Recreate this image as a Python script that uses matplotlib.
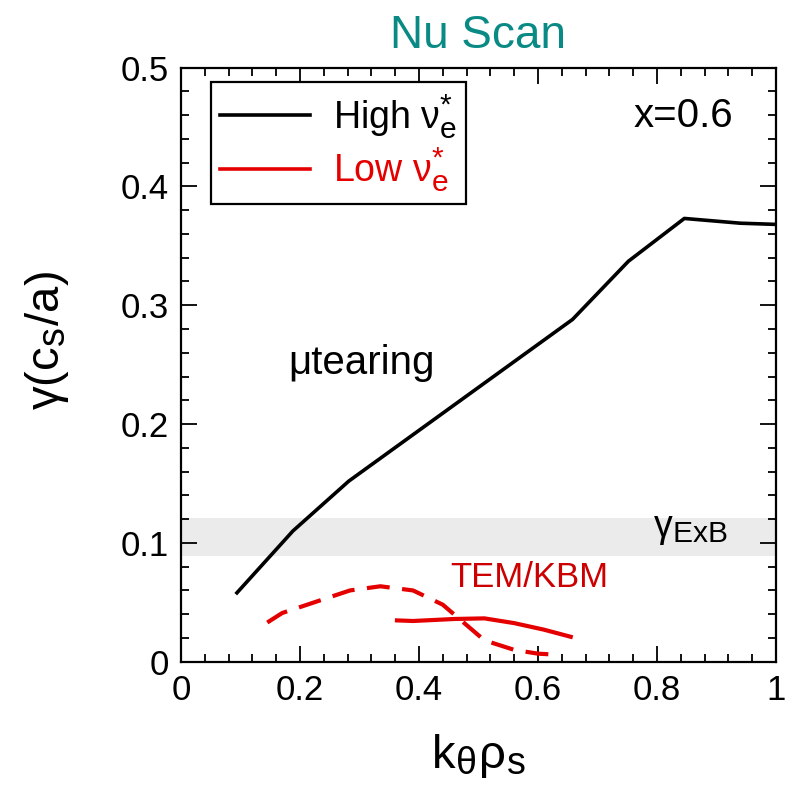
import numpy as np
import matplotlib
matplotlib.use('Agg')
import matplotlib.pyplot as plt
import matplotlib._mathtext as mt
from matplotlib.ticker import MultipleLocator, FixedLocator, FixedFormatter

plt.rcParams['font.family'] = ['Liberation Sans', 'DejaVu Sans']
plt.rcParams['mathtext.fontset'] = 'stix'
mt.SHRINK_FACTOR = 0.8  # subscripts are fairly big in the original

# high collisionality, microtearing branch
k_high = [0.094, 0.188, 0.282, 0.376, 0.470, 0.564, 0.658, 0.752, 0.846, 0.940, 1.0]
g_high = [0.058, 0.110, 0.152, 0.186, 0.220, 0.254, 0.288, 0.337, 0.373, 0.369, 0.368]

# low collisionality, two TEM/KBM branches
k_low_dash = [0.145, 0.170, 0.200, 0.236, 0.284, 0.335, 0.390, 0.440, 0.475, 0.510, 0.560, 0.600, 0.630]
g_low_dash = [0.033, 0.041, 0.046, 0.052, 0.060, 0.0635, 0.060, 0.048, 0.033, 0.018, 0.010, 0.0068, 0.006]
k_low_solid = [0.363, 0.390, 0.460, 0.510, 0.560, 0.610, 0.655]
g_low_solid = [0.0348, 0.0343, 0.036, 0.0365, 0.0325, 0.027, 0.021]

# ExB shearing rate band
exb_lo, exb_hi = 0.089, 0.121

xticks = [0, 0.2, 0.4, 0.6, 0.8, 1.0]
xticklabels = ['0', '0.2', '0.4', '0.6', '0.8', '1']
yticks = [0, 0.1, 0.2, 0.3, 0.4, 0.5]
yticklabels = ['0', '0.1', '0.2', '0.3', '0.4', '0.5']

red = '#e50000'
dark_red = '#cc0000'

fig = plt.figure(figsize=(7.87, 7.85), dpi=100)
ax = fig.add_axes([0.230, 0.157, 0.756, 0.757])

ax.axhspan(exb_lo, exb_hi, color='#ebebeb', zorder=0, lw=0)

ax.plot(k_high, g_high, color='black', lw=2.6, label=r'High ν$_{\mathregular{e}}^{\mathregular{*}}$')
ax.plot(k_low_dash, g_low_dash, color=red, lw=3.0, dashes=(5.5, 3))
ax.plot(k_low_solid, g_low_solid, color=red, lw=3.0, label=r'Low ν$_{\mathregular{e}}^{\mathregular{*}}$')

ax.set_xlim(0, 1)
ax.set_ylim(0, 0.5)
ax.xaxis.set_major_locator(FixedLocator(xticks))
ax.xaxis.set_major_formatter(FixedFormatter(xticklabels))
ax.yaxis.set_major_locator(FixedLocator(yticks))
ax.yaxis.set_major_formatter(FixedFormatter(yticklabels))
ax.xaxis.set_minor_locator(MultipleLocator(0.04))
ax.yaxis.set_minor_locator(MultipleLocator(0.02))
ax.tick_params(which='both', direction='in', top=True, right=True, labelsize=25, width=1.3)
ax.tick_params(which='major', length=11.5, pad=9)
ax.tick_params(which='minor', length=5.8)
for s in ax.spines.values():
    s.set_linewidth(1.6)

ax.set_xlabel(r'k$_{\mathregular{θ}}$ρ$_{\mathregular{s}}$', fontsize=34, labelpad=18)
ax.set_ylabel(r'γ(c$_{\mathregular{s}}$/a)', fontsize=34)
ax.yaxis.set_label_coords(-0.185, 0.54)
ax.set_title('Nu Scan', fontsize=33, color='#0a8a85', pad=14)

ax.text(0.76, 0.450, 'x=0.6', fontsize=29)
ax.text(0.18, 0.242, 'μtearing', fontsize=29)
ax.text(0.452, 0.063, 'TEM/KBM', fontsize=25, color=dark_red)
ax.text(0.793, 0.105, r'γ$_{\mathregular{ExB}}$', fontsize=27)

leg = ax.legend(loc='upper left', bbox_to_anchor=(0.05, 0.976), fontsize=27,
                fancybox=False, framealpha=1, edgecolor='black',
                handlelength=2.4, handletextpad=0.6, borderpad=0.25,
                labelspacing=0.12, borderaxespad=0)
leg.get_frame().set_linewidth(1.6)
for txt, line in zip(leg.get_texts(), leg.get_lines()):
    txt.set_color(line.get_color())
    line.set_linewidth(2.6)

fig.savefig('out.png', dpi=100)
